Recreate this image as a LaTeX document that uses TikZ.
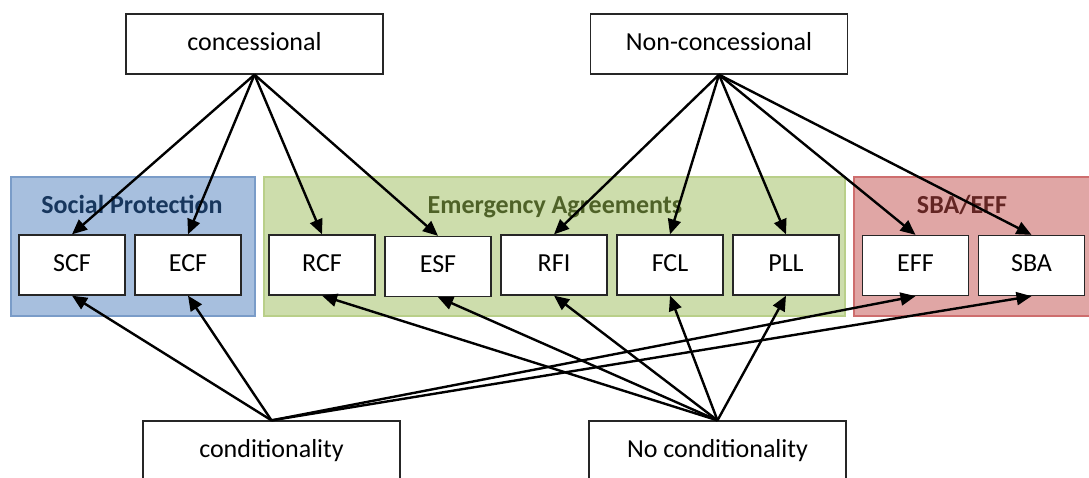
\documentclass[tikz,border=0pt]{standalone}
\usepackage{fontspec}
\setmainfont{Carlito}
\usetikzlibrary{arrows.meta}
\definecolor{spfill}{RGB}{167,191,222}
\definecolor{spline}{RGB}{122,156,200}
\definecolor{sptext}{RGB}{23,54,93}
\definecolor{eafill}{RGB}{205,221,172}
\definecolor{ealine}{RGB}{185,207,137}
\definecolor{eatext}{RGB}{79,98,40}
\definecolor{rdfill}{RGB}{224,166,165}
\definecolor{rdline}{RGB}{206,110,110}
\definecolor{rdtext}{RGB}{99,37,35}
\tikzset{
  box/.style={draw=black!85, line width=1.3pt, fill=white, inner sep=0pt,
    font=\fontsize{26}{31}\selectfont, text height=17pt, text depth=5pt},
  smallbox/.style={box, minimum width=106pt, minimum height=60pt},
  bigbox/.style={box, minimum width=257pt, minimum height=60pt},
  grp/.style={line width=1.2pt},
  grplabel/.style={anchor=base, font=\fontsize{26}{31}\selectfont\bfseries, inner sep=0pt},
  arr/.style={line width=2.4pt, -{Triangle[length=15pt,width=13pt]}, shorten >=0pt}
}
\begin{document}
\begin{tikzpicture}[x=1pt, y=-1pt]
\useasboundingbox (0,0) rectangle (1089,477);
\clip (0,0) rectangle (1089,477);
\fill[white] (0,0) rectangle (1089,477);
% groups
\draw[grp, fill=spfill, draw=spline] (11,177) rectangle (255,316);
\draw[grp, fill=eafill, draw=ealine] (264,177) rectangle (845,316);
\draw[grp, fill=rdfill, draw=rdline] (854,177) rectangle (1095,316);
\node[grplabel, text=sptext] (lsp) at (132,213) {Social Protection};
\node[grplabel, text=eatext] (lea) at (555,213) {Emergency Agreements};
\node[grplabel, text=rdtext] (lrd) at (962,213) {SBA/EFF};
% top and bottom
\node[bigbox] (con) at (254.5,44) {concessional};
\node[bigbox] (ncon) at (719,44) {Non-concessional};
\node[bigbox] (cond) at (271.5,451) {conditionality};
\node[bigbox] (ncond) at (717.5,451) {No conditionality};
% facilities
\node[smallbox] (scf) at (72,265) {SCF};
\node[smallbox] (ecf) at (188,265) {ECF};
\node[smallbox] (rcf) at (322,265) {RCF};
\node[smallbox] (esf) at (438,266.5) {ESF};
\node[smallbox] (rfi) at (554,265) {RFI};
\node[smallbox] (fcl) at (670,265) {FCL};
\node[smallbox] (pll) at (786,265) {PLL};
\node[smallbox] (eff) at (915.5,265.5) {EFF};
\node[smallbox] (sba) at (1031.5,265.5) {SBA};
% arrows from concessional
\foreach \t in {scf,ecf,rcf,esf}
  \draw[arr] (con.south) -- (\t.north);
\foreach \t in {rfi,fcl,pll,eff,sba}
  \draw[arr] (ncon.south) -- (\t.north);
\foreach \t in {scf,ecf,eff,sba}
  \draw[arr] (cond.north) -- (\t.south);
\foreach \t in {rcf,esf,rfi,fcl,pll}
  \draw[arr] (ncond.north) -- (\t.south);
\end{tikzpicture}
\end{document}
